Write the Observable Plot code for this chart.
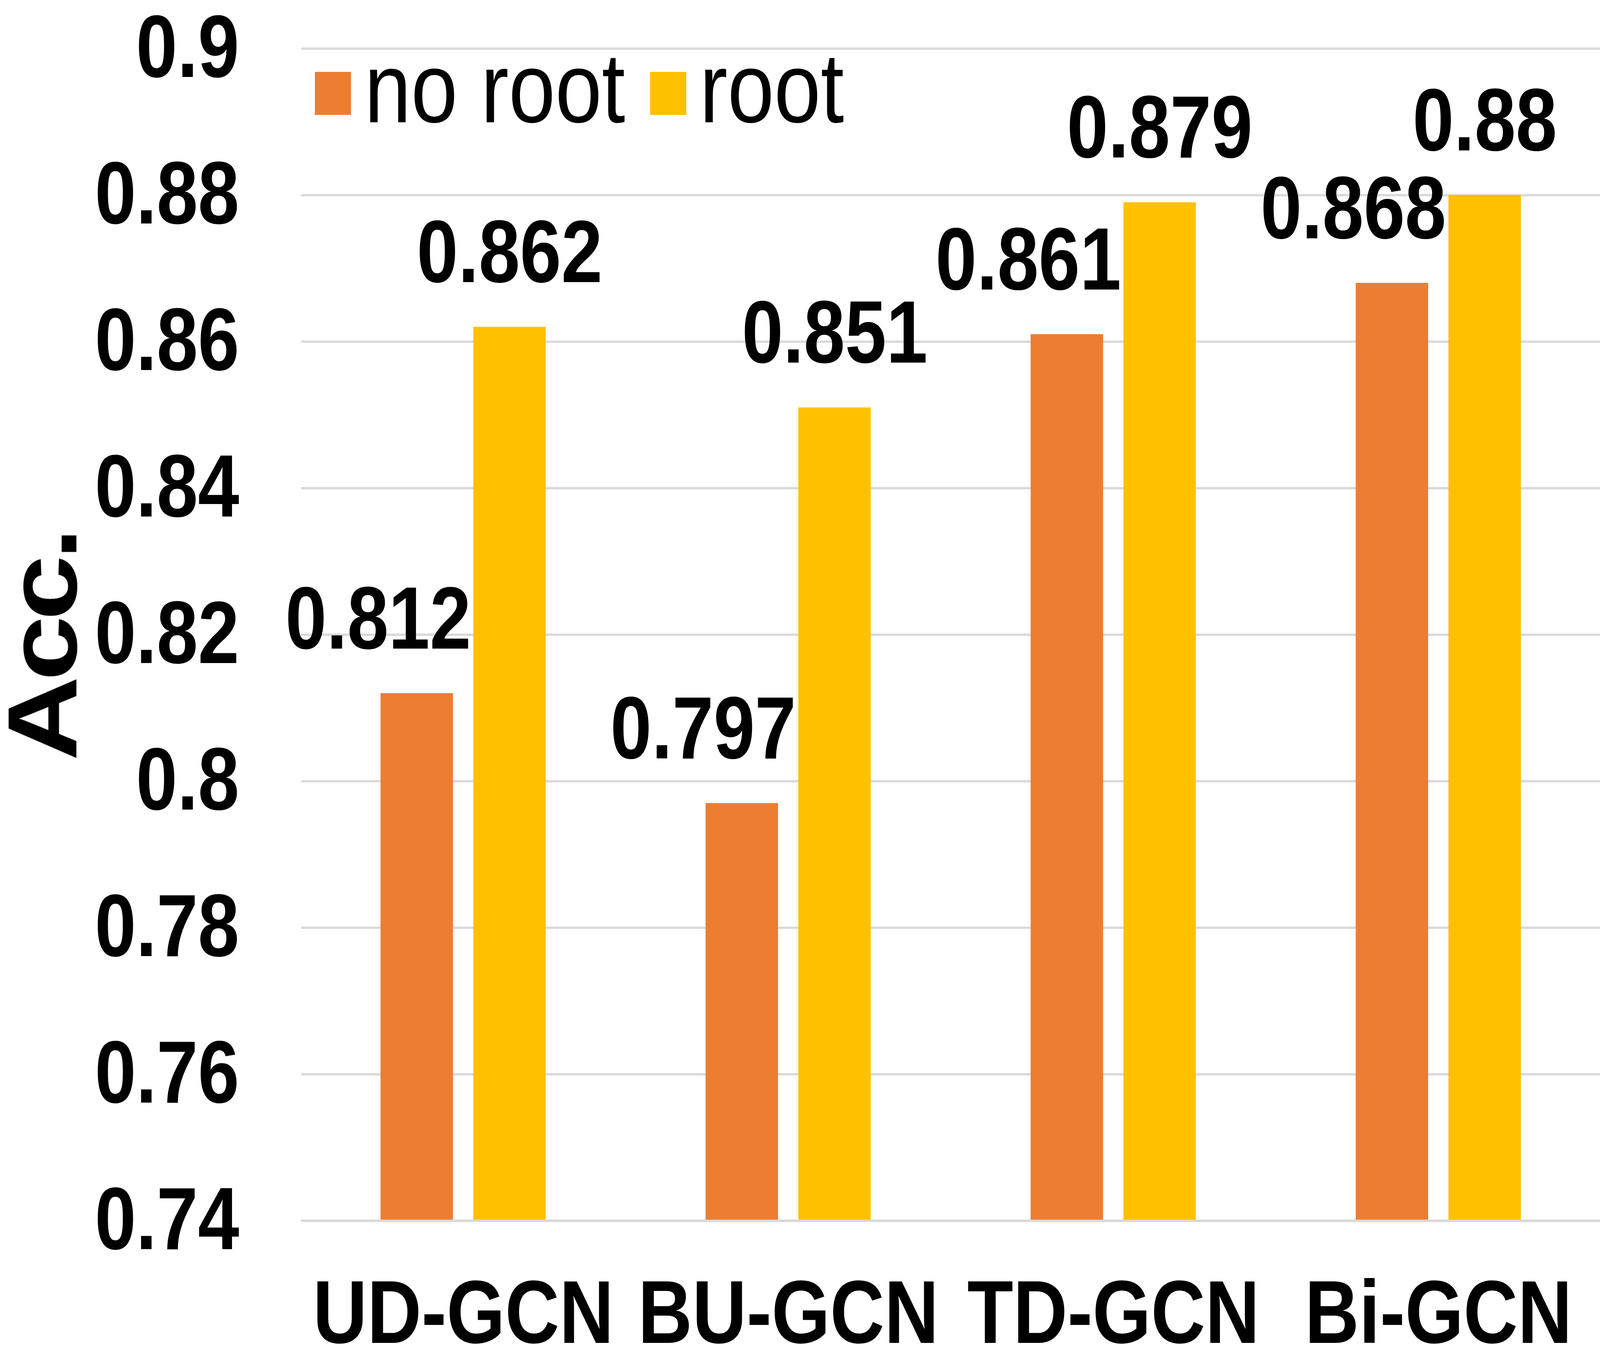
<!DOCTYPE html>
<html><head><meta charset="utf-8">
<script src="https://cdn.jsdelivr.net/npm/d3@7"></script>
<script src="https://cdn.jsdelivr.net/npm/@observablehq/plot@0.6"></script>
<style>
html,body{margin:0;padding:0;background:#fff;overflow:hidden;}
#outer{position:relative;overflow:hidden;}
#wrap{position:absolute;left:0;top:0;width:4873px;height:3491px;transform-origin:0 0;font-family:"Liberation Sans",Arial,sans-serif;}
#wrap svg{display:block;max-width:none;}
#legend{position:absolute;left:959px;top:97px;font-size:255px;line-height:1;white-space:nowrap;color:#000;}
.sw{display:inline-block;width:110px;height:110px;margin-bottom:19px;margin-right:41px;vertical-align:baseline;}
.lab{margin-right:76px;}
.ytitle text{letter-spacing:-12px;}
</style></head><body><div id="outer"><div id="wrap"><div id="legend"></div></div></div>
<script>
const categories = ["UD-GCN", "BU-GCN", "TD-GCN", "Bi-GCN"];
const series = ["no root", "root"];
const noRootValues = [0.812, 0.797, 0.861, 0.868];
const rootValues = [0.862, 0.851, 0.879, 0.88];
const yTicks = [0.74, 0.76, 0.78, 0.8, 0.82, 0.84, 0.86, 0.88, 0.9];
const yTickLabels = ["0.74", "0.76", "0.78", "0.8", "0.82", "0.84", "0.86", "0.88", "0.9"];
const yDomain = [0.74, 0.9];
const yTitle = "Acc.";
const colors = ["#ED7D31", "#FFC000"];

const W = 4873, H = 3491, mL = 917, mR = 0, mT = 124, mB = 367;
const padInner = 0.492, padOuter = 0.242;
const step = (W - mL - mR) / (categories.length - padInner + 2 * padOuter);
const bandwidth = step * (1 - padInner);
const barWidth = 221;
const inset = bandwidth - barWidth;
const shift = inset / 2;
const noRootLabelNudge = 118;

const noRoot = categories.map((c, i) => ({category: c, value: noRootValues[i]}));
const root = categories.map((c, i) => ({category: c, value: rootValues[i]}));
const labelOpts = {lineAnchor: "bottom", dy: -115, fontSize: 226, fontWeight: "bold", fill: "black"};

const chart = Plot.plot({
  width: W, height: H,
  marginLeft: mL, marginRight: mR, marginTop: mT, marginBottom: mB,
  style: {fontFamily: "Liberation Sans, Arial, sans-serif", background: "white", overflow: "visible", maxWidth: "none"},
  x: {domain: categories, paddingInner: padInner, paddingOuter: padOuter, label: null},
  y: {domain: yDomain, label: null},
  marks: [
    Plot.ruleY(yTicks, {y: d => d, stroke: "#d9d9d9", strokeWidth: 6}),
    Plot.barY(noRoot, {x: "category", y1: yDomain[0], y2: "value", fill: colors[0], insetRight: inset}),
    Plot.barY(root, {x: "category", y1: yDomain[0], y2: "value", fill: colors[1], insetLeft: inset}),
    Plot.ruleY([yDomain[0]], {y: d => d, stroke: "#d9d9d9", strokeWidth: 6}),
    Plot.text(noRoot, {x: "category", y: "value", text: d => String(d.value), dx: -shift - noRootLabelNudge, ...labelOpts}),
    Plot.text(root, {x: "category", y: "value", text: d => String(d.value), dx: shift, ...labelOpts}),
    Plot.axisY({ticks: yTicks, tickFormat: d => yTickLabels[yTicks.indexOf(d)], tickSize: 0, tickPadding: 189,
      fontSize: 226, fontWeight: "bold", label: null, fill: "black"}),
    Plot.axisX({tickSize: 0, tickPadding: 150, fontSize: 229, fontWeight: "bold", label: null, fill: "black"}),
    Plot.text([yTitle], {text: d => d, frameAnchor: "left", rotate: -90, dx: -685, dy: 30,
      textAnchor: "middle", lineAnchor: "bottom", fontSize: 300, fontWeight: "bold", fill: "black", className: "ytitle"})
  ]
});
const wrap = document.getElementById("wrap");
wrap.prepend(chart);

const legend = document.getElementById("legend");
series.forEach((s, i) => {
  const sw = document.createElement("span");
  sw.className = "sw";
  sw.style.background = colors[i];
  const lab = document.createElement("span");
  lab.className = "lab";
  lab.textContent = s;
  legend.append(sw, lab);
});

function fit() {
  const vw = document.documentElement.clientWidth || window.innerWidth;
  const vh = document.documentElement.clientHeight || window.innerHeight;
  const sx = Math.min(1, vw / W), sy = Math.min(1, vh / H);
  const outer = document.getElementById("outer");
  outer.style.width = (W * sx) + "px";
  outer.style.height = (H * sy) + "px";
  wrap.style.transform = "scale(" + sx + "," + sy + ")";
}
fit();
window.addEventListener("resize", fit);
</script></body></html>
